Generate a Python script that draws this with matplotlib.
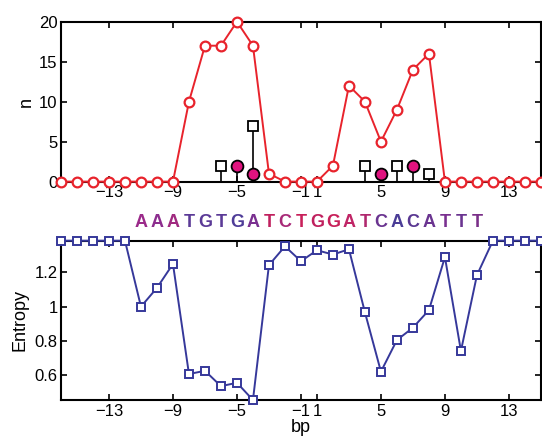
import matplotlib
matplotlib.use("Agg")
import matplotlib.pyplot as plt
import matplotlib.transforms as mtransforms

plt.rcParams['font.family'] = ['Liberation Sans', 'DejaVu Sans']

# ---- data ----
bp = list(range(-16, 0)) + list(range(1, 16))
n_counts = [0, 0, 0, 0, 0, 0, 0, 0,
            10, 17, 17, 20, 17, 1, 0, 0,
            0, 2, 12, 10, 5, 9, 14, 16, 0, 0, 0, 0, 0, 0, 0]
entropy = [1.386, 1.386, 1.386, 1.386, 1.386, 1.0, 1.11, 1.25,
           0.606, 0.625, 0.535, 0.555, 0.454, 1.243, 1.353, 1.266,
           1.33, 1.305, 1.336, 0.967, 0.62, 0.805, 0.877, 0.98, 1.29, 0.741, 1.184,
           1.386, 1.386, 1.386, 1.386]
square_bp = [-6, -4, 4, 6, 8]
square_val = [2, 7, 2, 2, 1]
circle_bp = [-5, -4, 5, 7]
circle_val = [2, 1, 1, 2]
tick_bp = [-13, -9, -5, -1, 1, 5, 9, 13]
seq_bp = list(range(-11, 0)) + list(range(1, 12))
sequence = "AAATGTGATCTGGATCACATTT"
seq_colors = ['#9b2a8a', '#8c2d8e', '#a02a80', '#5b3a97', '#5b3a97', '#5b3a97',
              '#4f3d98', '#7a3090', '#c0205e', '#a82a78', '#c8205a',
              '#c0205e', '#c8205a', '#c02566', '#b0286e', '#6a3490', '#4a3c96',
              '#5a3892', '#6a3490', '#7a3090', '#6a3490', '#7a2f88']


def pos(b):
    # bp numbering skips 0
    return b if b < 0 else b - 1


x = [pos(b) for b in bp]
red = '#e8232c'
blue = '#36389a'

fig = plt.figure(figsize=(5.42, 4.43), dpi=100)
ax1 = fig.add_axes([0.1125, 0.590, 0.8855, 0.361])
ax2 = fig.add_axes([0.1125, 0.097, 0.8855, 0.3597])

# ---- top panel ----
ax1.plot(x, n_counts, '-', color=red, lw=1.4, marker='o', ms=7,
         mfc='white', mec=red, mew=1.6, clip_on=False, zorder=3)
for b, v in zip(square_bp, square_val):
    ax1.plot([pos(b), pos(b)], [0, v], color='black', lw=1.2, zorder=4)
for b, v in zip(circle_bp, circle_val):
    ax1.plot([pos(b), pos(b)], [0, v], color='black', lw=1.2, zorder=4)
ax1.plot([pos(b) for b in square_bp], square_val, 's', ms=6.5, mfc='white',
         mec='black', mew=1.3, ls='none', zorder=5)
ax1.plot([pos(b) for b in circle_bp], circle_val, 'o', ms=8.5, mfc='#e0137f',
         mec='black', mew=1.3, ls='none', zorder=5)
ax1.set_xlim(pos(-16), pos(15))
ax1.set_ylim(0, 20)
ax1.set_yticks([0, 5, 10, 15, 20])
ax1.set_ylabel('n', fontsize=13, labelpad=3)

# ---- bottom panel ----
ax2.plot(x, entropy, '-', color=blue, lw=1.4, marker='s', ms=6,
         mfc='white', mec=blue, mew=1.4, clip_on=False, zorder=3)
ax2.set_xlim(pos(-16), pos(15))
ax2.set_ylim(min(entropy), max(entropy))
ax2.set_yticks([0.6, 0.8, 1.0, 1.2])
ax2.set_yticklabels(['0.6', '0.8', '1', '1.2'])
ax2.set_ylabel('Entropy', fontsize=13, labelpad=4)
ax2.set_xlabel('bp', fontsize=13, labelpad=0.5)

for ax in (ax1, ax2):
    ax.set_xticks([pos(b) for b in tick_bp])
    ax.set_xticklabels(['\u2212' + str(-b) if b < 0 else str(b) for b in tick_bp])
    ax.tick_params(direction='in', top=True, right=True, length=4, width=1.2,
                   labelsize=12, pad=2.5, colors='black')
    for s in ax.spines.values():
        s.set_linewidth(1.5)

trans = mtransforms.blended_transform_factory(ax2.transData, ax2.transAxes)
for b, ch, c in zip(seq_bp, sequence, seq_colors):
    ax2.text(pos(b), 1.111, ch, transform=trans, ha='center', va='center',
             fontsize=13, fontweight='bold', color=c)

fig.savefig('out.png', dpi=100)
